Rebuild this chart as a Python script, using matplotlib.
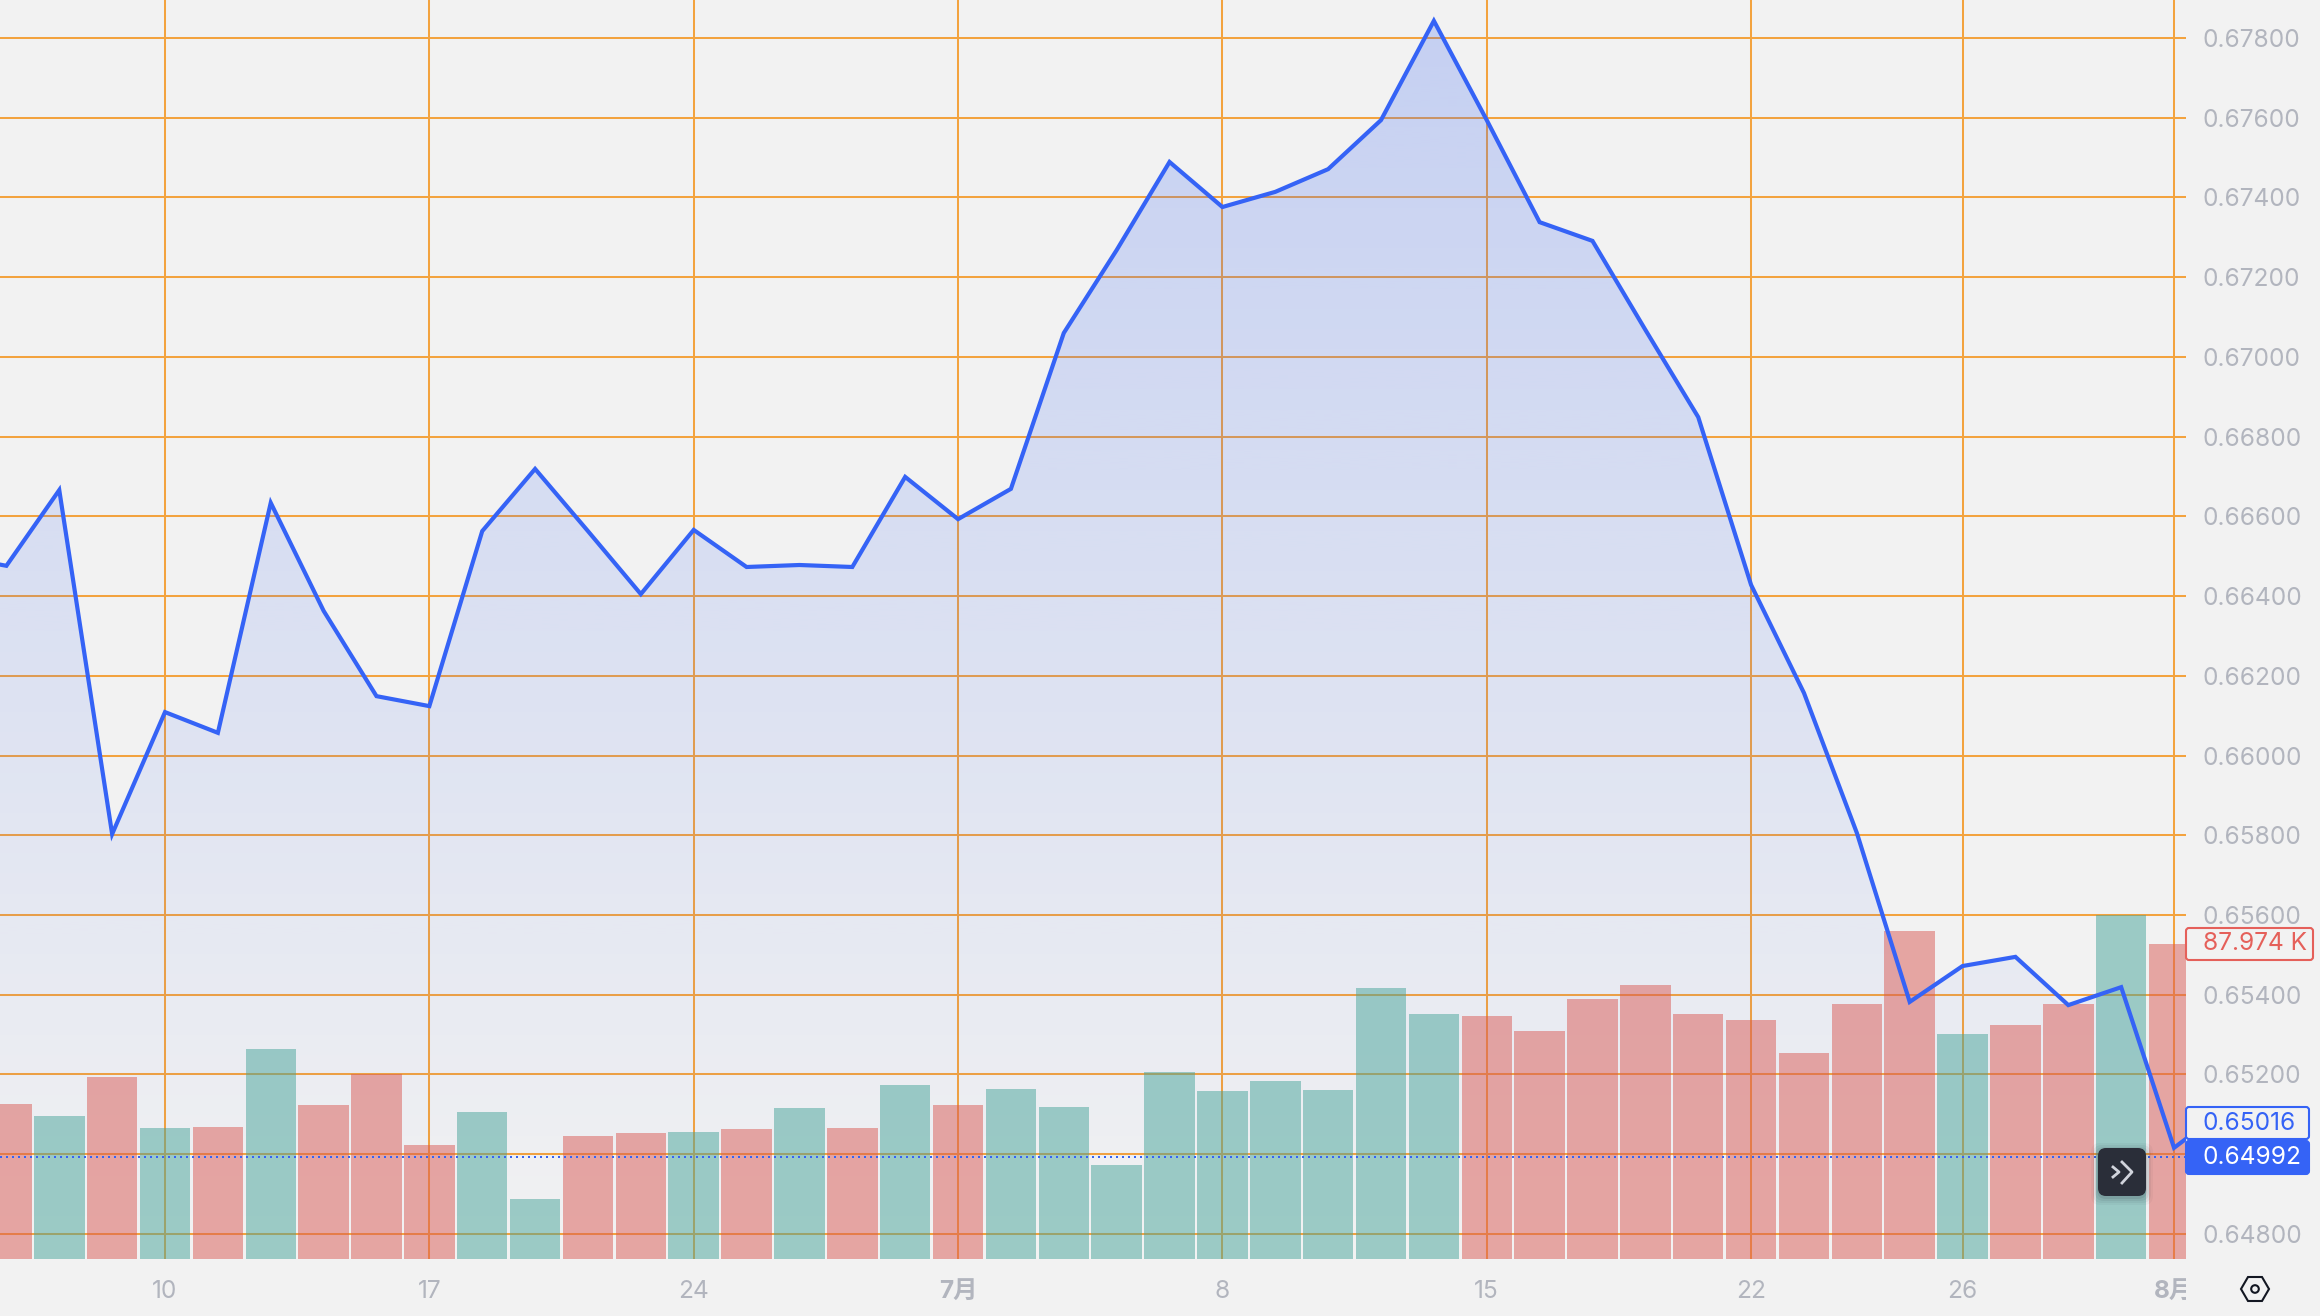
"""Price line with volume bars, trading-terminal style."""
import matplotlib
matplotlib.use("Agg")
import matplotlib.pyplot as plt
import numpy as np
from matplotlib.patches import FancyBboxPatch, Polygon, Circle
from matplotlib.transforms import Bbox, TransformedBbox

W, H = 2320, 1316
PLOT_R, PLOT_B = 2186, 1259
FONT = 17.6

plt.rcParams["font.family"] = ["Inter", "Noto Sans CJK SC", "DejaVu Sans"]

# one point per trading day, starts one day before the left edge
PRICE = [0.66501, 0.66476, 0.66666, 0.65803, 0.66109, 0.66057, 0.66634, 0.66363,
         0.66149, 0.66124, 0.66563, 0.66719, 0.66563, 0.66405, 0.66566, 0.66473,
         0.66478, 0.66473, 0.66699, 0.66593, 0.66669, 0.67060, 0.67268, 0.67489,
         0.67376, 0.67414, 0.67471, 0.67594, 0.67843, 0.67594, 0.67338, 0.67291,
         0.67068, 0.66849, 0.66428, 0.66157, 0.65806, 0.65382, 0.65472, 0.65495,
         0.65374, 0.65419, 0.65016, 0.65116]
VOLUME = [43.3, 39.9, 50.8, 36.6, 36.9, 58.7, 43.0, 51.7, 31.8, 41.1, 16.8, 34.4,
          35.2, 35.5, 36.3, 42.2, 36.6, 48.6, 43.0, 47.5, 42.5, 26.3, 52.2, 46.9,
          49.7, 47.2, 75.7, 68.4, 67.9, 63.7, 72.6, 76.5, 68.4, 66.8, 57.5, 71.2,
          91.6, 62.8, 65.4, 71.2, 96.1, 87.974]
UP = [0, 1, 0, 1, 0, 1, 0, 0, 0, 1, 1, 0, 0, 1, 0, 1, 0, 1, 0, 1, 1, 1, 1, 1, 1, 1, 1, 1,
      0, 0, 0, 0, 0, 0, 0, 0, 0, 1, 0, 0, 1, 0]
X_TICKS = [3, 8, 13, 18, 23, 28, 33, 37, 41]
X_LABELS = ["10", "17", "24", "7月", "8", "15", "22", "26", "8月"]
Y_TICKS = [0.648, 0.650, 0.652, 0.654, 0.656, 0.658, 0.660, 0.662, 0.664, 0.666,
           0.668, 0.670, 0.672, 0.674, 0.676, 0.678]
LAST_PRICE = 0.64992
CLOSE_LABEL = "0.65016"
LAST_LABEL = "0.64992"
VOL_LABEL = "87.974 K"

BG = "#F2F2F2"
GRID = "#F3A33F"
BLUE = "#3563F6"
RED = "#DA5953"
GREEN = "#46A49A"
AXIS_TEXT = "#B2B5BE"

fig = plt.figure(figsize=(W / 100, H / 100), dpi=100, facecolor=BG)
ax = fig.add_axes([0, 1 - PLOT_B / H, PLOT_R / W, PLOT_B / H], facecolor=BG)
ax_vol = ax.twinx()
ax_line = ax.twinx()
ax.set_zorder(1)
ax_vol.set_zorder(2)
ax_line.set_zorder(3)

xlim = (-0.121, 41.226)
ylim = (0.647371, 0.678953)
days = np.arange(len(PRICE)) - 1
bar_days = np.arange(len(VOLUME))

# grid
ax.set_xticks(X_TICKS, X_LABELS)
ax.set_yticks(Y_TICKS)
ax.grid(True, color=GRID, lw=1.45)
ax.set_axisbelow(True)
ax.tick_params(axis="y", length=0, labelleft=False, labelright=False)
ax.tick_params(axis="x", length=0, pad=15, labelsize=FONT, labelcolor=AXIS_TEXT)

# area under the line, fades out downwards
top = max(PRICE)
grad = np.zeros((256, 1, 4))
grad[..., :3] = matplotlib.colors.to_rgb(BLUE)
grad[..., 3] = np.linspace(0.24, 0, 256)[:, None]
im = ax.imshow(grad, extent=(days[0], days[-1], ylim[0], top), aspect="auto",
               origin="upper", zorder=2, interpolation="bilinear")
poly = Polygon(list(zip(days, PRICE)) + [(days[-1], ylim[0]), (days[0], ylim[0])],
               closed=True, transform=ax.transData, fc="none", ec="none")
ax.add_patch(poly)
im.set_clip_path(poly)
ax.set_xlim(xlim)
ax.set_ylim(ylim)

# volume
colors = [GREEN if u else RED for u in UP]
ax_vol.bar(bar_days, VOLUME, width=0.955, color=colors, alpha=0.5, lw=0)
ax_vol.set_ylim(0, 351.6)
ax_vol.set_yticks([])

# price
ax_line.plot(days, PRICE, color=BLUE, lw=3.0, solid_joinstyle="miter")
ax_line.axhline(LAST_PRICE, color=BLUE, lw=1.44, ls=(0, (1, 2)))
ax_line.set_xlim(xlim)
ax_line.set_ylim(ylim)
ax_line.set_yticks(Y_TICKS, [f"{v:.5f}" for v in Y_TICKS])
ax_line.tick_params(axis="y", length=0, pad=12, labelsize=FONT, labelcolor=AXIS_TEXT)

for a in (ax, ax_vol, ax_line):
    for s in a.spines.values():
        s.set_visible(False)

# month labels are heavier, the last one gets cut by the price scale
clip = TransformedBbox(Bbox([[0, 0], [PLOT_R / W, 1]]), fig.transFigure)
for t in ax.get_xticklabels():
    if "月" in t.get_text():
        t.set_fontweight("bold")
    t.set_clip_box(clip)
    t.set_clip_on(True)

# overlay in pixels for the terminal furniture
ui = fig.add_axes([0, 0, 1, 1], facecolor="none", zorder=5)
ui.set_xlim(0, W)
ui.set_ylim(H, 0)
ui.axis("off")


def tag(y0, y1, x1, text, fc, ec, tc):
    box = FancyBboxPatch((PLOT_R, y0), x1 - PLOT_R, y1 - y0, boxstyle="round,pad=0,rounding_size=3",
                         fc=fc, ec=ec, lw=1.5)
    ui.add_patch(box)
    ui.text(2203, (y0 + y1) / 2, text, color=tc, fontsize=FONT, va="center", ha="left")


tag(928, 960, 2313, VOL_LABEL, BG, "#E5605A", "#E5605A")
tag(1107, 1139, 2309, CLOSE_LABEL, BG, BLUE, BLUE)
tag(1141, 1174, 2309, LAST_LABEL, BLUE, BLUE, "white")

# scroll-to-end button
for grow, alpha in [(7, 0.04), (5, 0.06), (3, 0.08), (1, 0.1)]:
    ui.add_patch(FancyBboxPatch((2098 - grow, 1150 - grow), 48 + 2 * grow, 48 + 2 * grow,
                                boxstyle="round,pad=0,rounding_size=9", fc="#2A2E39",
                                ec="none", alpha=alpha))
ui.add_patch(FancyBboxPatch((2098, 1148), 48, 48, boxstyle="round,pad=0,rounding_size=8",
                            fc="#2A2E39", ec="none"))
ui.plot([2113, 2119, 2113], [1167, 1172, 1177], color="#D1D4DC", lw=2.0)
ui.plot([2122, 2132, 2122], [1162, 1172, 1183], color="#D1D4DC", lw=2.0)

# settings icon
cx, cy = 2255, 1289
ui.add_patch(Polygon([(cx - 14, cy), (cx - 7, cy - 12), (cx + 7, cy - 12), (cx + 14, cy),
                      (cx + 7, cy + 12), (cx - 7, cy + 12)], closed=True, fc="none",
                     ec="#131722", lw=1.5))
ui.add_patch(Circle((cx, cy), 3.8, fc="none", ec="#131722", lw=1.5))

fig.savefig("out.png", dpi=100, facecolor=BG)
plt.close()
